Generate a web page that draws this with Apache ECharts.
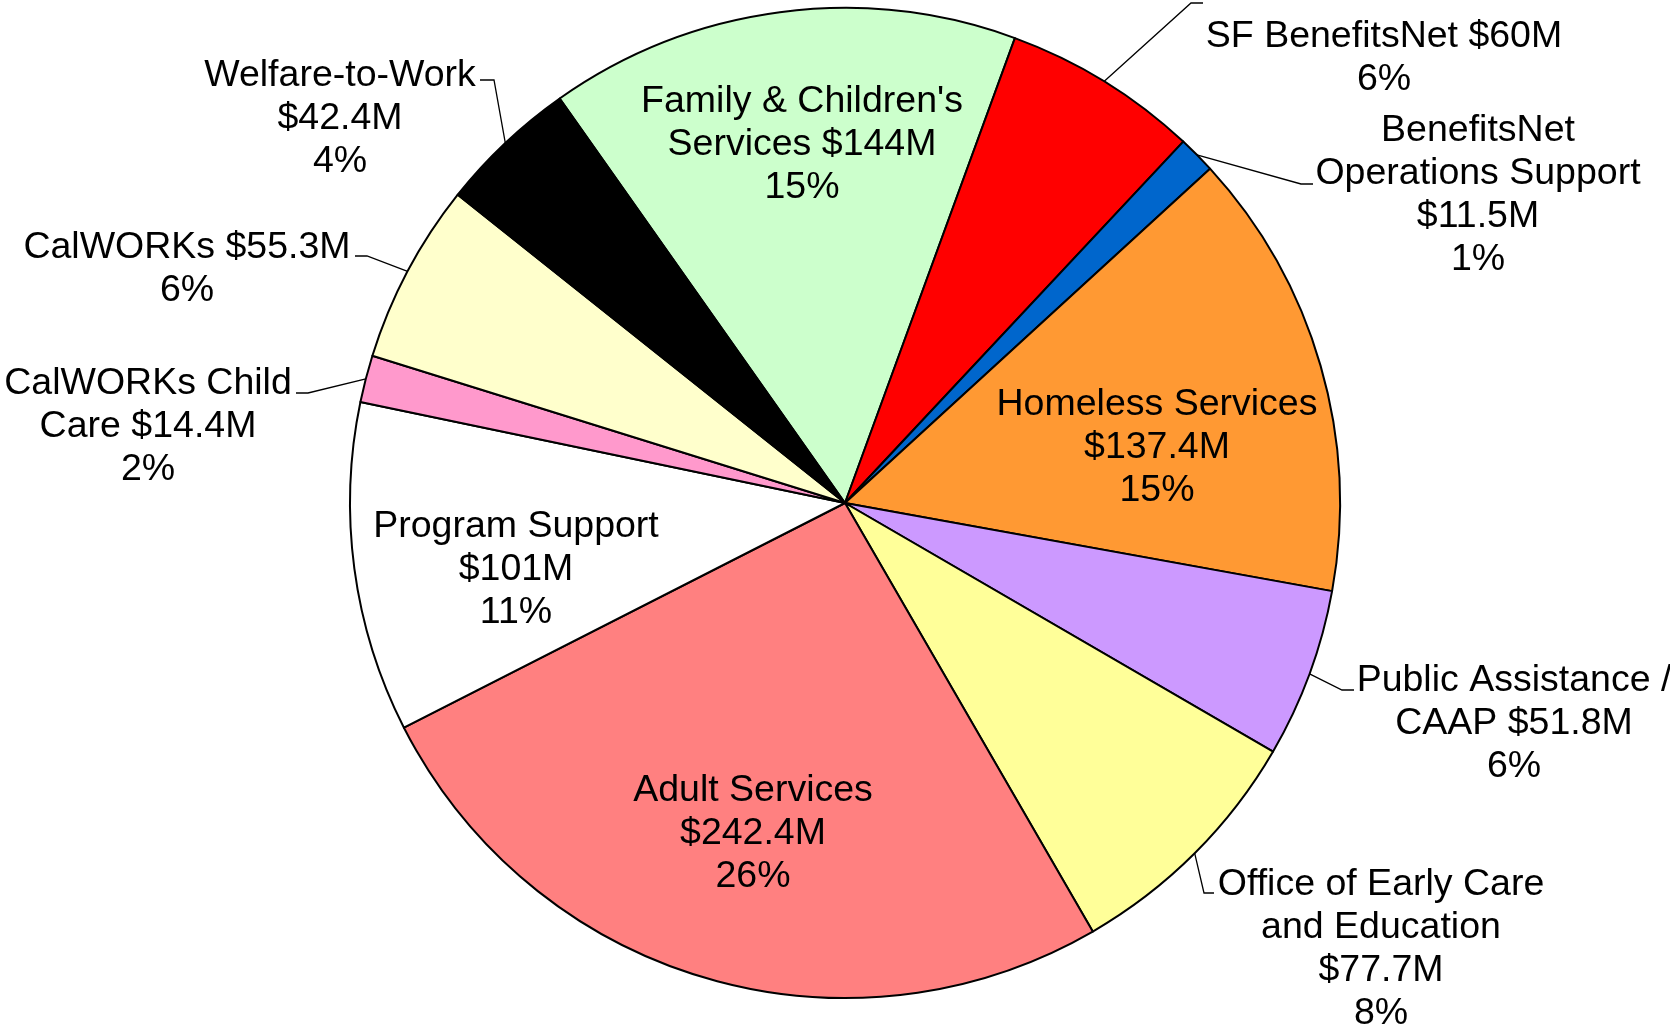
<!DOCTYPE html>
<html>
<head>
<meta charset="utf-8">
<script src="https://cdn.jsdelivr.net/npm/echarts@6/dist/echarts.min.js"></script>
<style>
  html, body { margin: 0; padding: 0; background: #ffffff; }
  #chart { width: 1670px; height: 1024px; }
</style>
</head>
<body>
<div id="chart"></div>
<script>
// ---- data ----
var categories = [
  "Family & Children's Services", "SF BenefitsNet", "BenefitsNet Operations Support",
  "Homeless Services", "Public Assistance / CAAP", "Office of Early Care and Education",
  "Adult Services", "Program Support", "CalWORKs Child Care", "CalWORKs", "Welfare-to-Work"
];
var values = [144, 60, 11.5, 137.4, 51.8, 77.7, 242.4, 101, 14.4, 55.3, 42.4];
var percentLabels = ["15%", "6%", "1%", "15%", "6%", "8%", "26%", "11%", "2%", "6%", "4%"];
// label text as wrapped in the picture
var labelNames = [
  "Family & Children's\nServices", "SF BenefitsNet", "BenefitsNet\nOperations Support",
  "Homeless Services", "Public Assistance /\nCAAP", "Office of Early Care\nand Education",
  "Adult Services", "Program Support", "CalWORKs Child\nCare", "CalWORKs", "Welfare-to-Work"
];
var labelSeparators = [" ", " ", "\n", "\n", " ", "\n", "\n", "\n", " ", " ", "\n"];

// ---- styles / layout ----
var colors = ["#CCFFCC", "#FF0000", "#0066CC", "#FF9933", "#CC99FF", "#FFFF99",
              "#FF8080", "#FFFFFF", "#FF99CC", "#FFFFCC", "#000000"];
var insideLabel = [true, false, false, true, false, false, true, true, false, false, false];
var labelDy = 4;
var labelLayoutTable = [
  { x: 802, y: 141 },
  { x: 1384, y: 54, line: [[1191, 3], [1203, 3]] },
  { x: 1478, y: 191, line: [[1301, 184], [1313, 184]] },
  { x: 1157, y: 444 },
  { x: 1514, y: 720, line: [[1342, 690], [1354, 690]] },
  { x: 1381, y: 945, line: [[1204, 893], [1214, 893]] },
  { x: 753, y: 830 },
  { x: 516, y: 566 },
  { x: 148, y: 423, line: [[308, 393], [296, 393]] },
  { x: 187, y: 265, line: [[367, 256], [355, 256]] },
  { x: 340, y: 115, line: [[494, 80], [480, 80]] }
];

var seriesData = categories.map(function (name, i) {
  return {
    name: name,
    value: values[i],
    itemStyle: { color: colors[i] },
    label: { position: insideLabel[i] ? 'inside' : 'outside' },
    labelLine: { show: !insideLabel[i] }
  };
});

var chart = echarts.init(document.getElementById('chart'), null, { renderer: 'canvas' });
chart.setOption({
  backgroundColor: '#ffffff',
  animation: false,
  series: [{
    type: 'pie',
    center: [845, 503],
    radius: 495,
    startAngle: 125.2,
    clockwise: true,
    avoidLabelOverlap: false,
    emphasis: { disabled: true },
    itemStyle: { borderColor: '#000000', borderWidth: 2 },
    label: {
      show: true,
      color: '#000000',
      fontFamily: '"Liberation Sans", Arial, sans-serif',
      fontSize: 37.5,
      lineHeight: 43,
      align: 'center',
      formatter: function (p) {
        var i = p.dataIndex;
        return labelNames[i] + labelSeparators[i] + '$' + values[i] + 'M\n' + percentLabels[i];
      }
    },
    labelLine: {
      show: true,
      lineStyle: { color: '#000000', width: 1.3 },
      length: 20,
      length2: 10
    },
    labelLayout: function (params) {
      var i = params.dataIndex;
      var L = labelLayoutTable[i];
      var out = { x: L.x, y: L.y + labelDy, align: 'center', verticalAlign: 'middle' };
      if (L.line && params.labelLinePoints) {
        var p0 = params.labelLinePoints[0];
        out.labelLinePoints = [[p0[0], p0[1]], L.line[0], L.line[1]];
      }
      return out;
    },
    data: seriesData
  }]
});
</script>
</body>
</html>
